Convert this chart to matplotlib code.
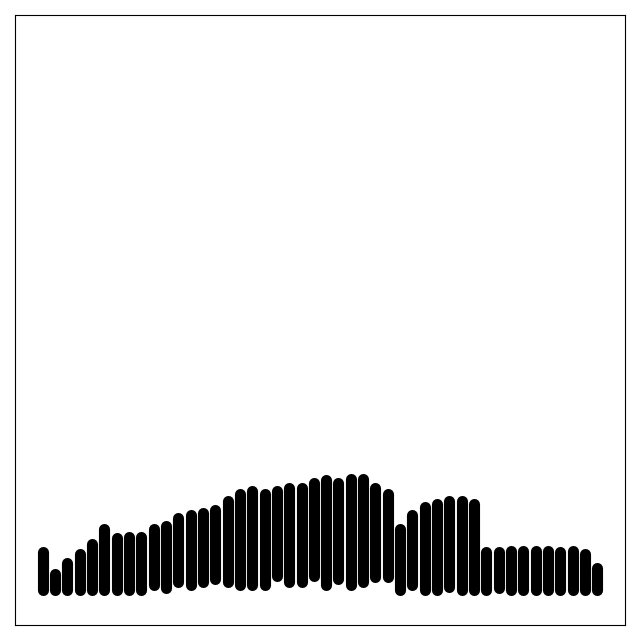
import matplotlib
matplotlib.use("Agg")
import matplotlib.pyplot as plt

# low / high of each range
lows = [5.8, 5.8, 5.8, 5.8, 5.8, 5.8, 5.8, 5.8, 5.8, 6.5,
        6.0, 7.0, 6.5, 7.0, 7.6, 7.1, 6.5, 6.5, 6.5, 8.1,
        7.0, 7.0, 8.0, 6.6, 7.6, 6.6, 7.1, 7.8, 7.8, 5.8,
        6.6, 5.8, 5.8, 6.3, 5.8, 5.8, 5.8, 6.1, 5.8, 5.8,
        5.8, 5.8, 5.8, 5.8, 5.8, 5.8]
highs = [11.9, 8.3, 10.1, 11.6, 13.2, 15.7, 14.2, 14.5, 14.5, 15.7,
         16.3, 17.6, 18.1, 18.4, 18.9, 20.4, 21.4, 22.0, 21.4, 22.0,
         22.4, 22.4, 23.2, 23.7, 23.2, 24.0, 24.0, 22.4, 21.4, 15.7,
         18.1, 19.3, 19.9, 20.4, 20.4, 19.9, 11.9, 11.9, 12.2, 12.2,
         12.2, 12.2, 11.9, 12.2, 11.6, 9.4]
x = list(range(len(lows)))

fig = plt.figure(figsize=(6.4, 6.4), dpi=100)
ax = fig.add_axes([15 / 640, 15 / 640, 610 / 640, 610 / 640])

ax.vlines(x, lows, highs, colors="black", linewidth=8, capstyle="round")

ax.set_xlim(-2.25, 47.25)
ax.set_ylim(0, 100)
ax.set_xticks([])
ax.set_yticks([])

fig.savefig("out.png")
